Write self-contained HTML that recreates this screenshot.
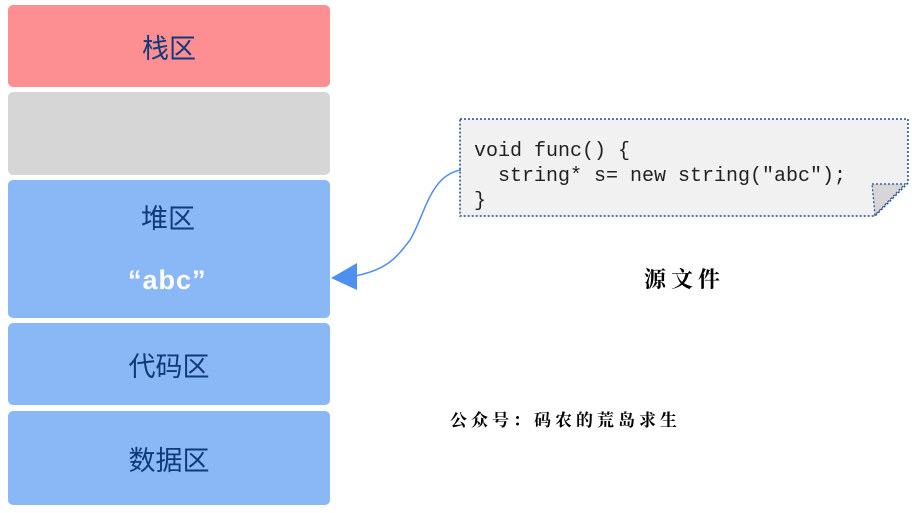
<!DOCTYPE html>
<html><head><meta charset="utf-8"><style>
body{margin:0;width:912px;height:513px;background:#fff;position:relative;overflow:hidden;font-family:"Liberation Sans","Noto Sans CJK SC",sans-serif}
.b{position:absolute;left:8px;width:322px;border-radius:5px;display:flex;align-items:center;justify-content:center;color:#0f3a7a;font-size:27px}
.t{position:absolute;color:#0f3a7a;font-size:27px}
</style></head><body>
<div class="b" style="top:5px;height:82px;background:#fd8f92">栈区</div>
<div class="b" style="top:92px;height:83px;background:#d6d6d6"></div>
<div class="b" style="top:180px;height:138px;background:#8ab7f6"></div>
<div class="t" style="left:141px;top:197px">堆区</div>
<div class="t" style="left:128px;top:265px;color:#fff;font-weight:bold;font-family:'Liberation Sans',sans-serif;font-size:27px;letter-spacing:1px">“abc”</div>
<div class="b" style="top:323px;height:82px;background:#8ab7f6">代码区</div>
<div class="b" style="top:411px;height:94px;background:#8ab7f6">数据区</div>
<svg width="912" height="513" style="position:absolute;left:0;top:0">
<path d="M460 119 L908 119 L908 183 L875 216 L460 216 Z" fill="#f1f1f1" stroke="#1f4a8a" stroke-width="1.5" stroke-dasharray="2,2"/>
<path d="M872 184 L905 184 L875 215 Z" fill="#d6d6d6" stroke="#1f4a8a" stroke-width="1.2" stroke-dasharray="2,2"/>
<path d="M461 170 C430 175 425 215 410 240 C395 260 385 270 355 276" fill="none" stroke="#4f8fef" stroke-width="1.5"/>
<path d="M331 278 L357 263 L357 290 Z" fill="#4f8fef"/>
</svg>
<pre style="position:absolute;left:474px;top:139px;margin:0;font-family:'Liberation Mono',monospace;font-size:20px;line-height:25px;color:#222">void func() {
  string* s= new string("abc");
}</pre>
<div style="position:absolute;left:644px;top:263px;font-size:22px;font-weight:bold;letter-spacing:5px;font-family:'Noto Serif CJK SC',serif">源文件</div>
<div style="position:absolute;left:450px;top:406px;font-size:17px;font-weight:bold;letter-spacing:4px;font-family:'Noto Serif CJK SC',serif">公众号：码农的荒岛求生</div>
</body></html>
